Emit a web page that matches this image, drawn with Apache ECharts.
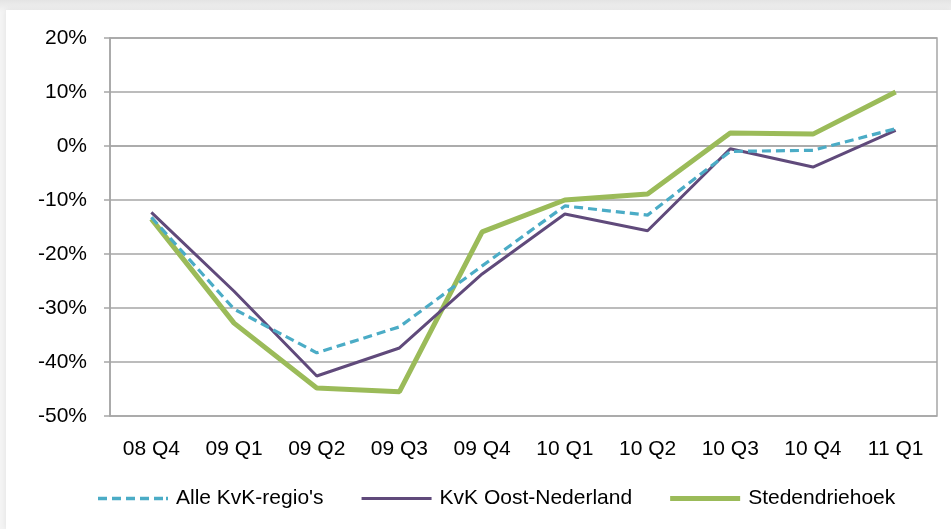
<!DOCTYPE html>
<html>
<head>
<meta charset="utf-8">
<script src="https://cdn.jsdelivr.net/npm/echarts@6/dist/echarts.min.js"></script>
<style>
  html, body { margin: 0; padding: 0; width: 951px; height: 529px; overflow: hidden;
    background: linear-gradient(#e4e4e4, #f4f4f4 12px, #f4f4f4); }
  #chart { position: absolute; left: 6px; top: 10px; width: 945px; height: 519px; background: #ffffff;
    box-shadow: 0 0 6px rgba(0,0,0,0.08); }
</style>
</head>
<body>
<div id="chart"></div>
<script>
const categories = ['08 Q4', '09 Q1', '09 Q2', '09 Q3', '09 Q4', '10 Q1', '10 Q2', '10 Q3', '10 Q4', '11 Q1'];
const alleKvK = [-13.2, -30.2, -38.3, -33.5, -22.2, -11.1, -12.8, -1.0, -0.8, 3.2];
const oostNederland = [-12.3, -26.9, -42.6, -37.4, -23.7, -12.6, -15.7, -0.5, -3.9, 2.9];
const stedendriehoek = [-13.5, -32.8, -44.8, -45.5, -15.9, -10.0, -8.9, 2.4, 2.2, 10.0];
const seriesNames = ["Alle KvK-regio's", 'KvK Oost-Nederland', 'Stedendriehoek'];

const font = 'Liberation Sans, Arial, sans-serif';
const axisGray = '#a6a6a6';
const colors = ['#4bacc6', '#604a7b', '#9bbb59'];
const legendIcons = [
  'path://M0,0h9v3.5h-9z M14,0h9v3.5h-9z M28,0h9v3.5h-9z M42,0h9v3.5h-9z M56,0h9v3.5h-9z M68,0h2v3.5h-2z',
  'path://M0,0h70v3h-70z',
  'path://M0,0h70v5h-70z'
];

const chart = echarts.init(document.getElementById('chart'), null, { renderer: 'canvas' });
chart.setOption({
  animation: false,
  textStyle: { fontFamily: font },
  grid: { left: 104, right: 14, top: 28, bottom: 113, show: true, borderColor: axisGray, borderWidth: 1.5, backgroundColor: 'transparent' },
  legend: {
    bottom: 15,
    left: 87,
    itemWidth: 70,
    itemHeight: 14,
    itemGap: 38,
    itemStyle: { borderWidth: 0 },
    textStyle: { fontFamily: font, fontSize: 21, color: '#000', padding: [0, 0, 0, 3] },
    data: seriesNames.map((n, i) => ({ name: n, icon: legendIcons[i], itemStyle: { color: colors[i], borderWidth: 0 } }))
  },
  xAxis: {
    type: 'category',
    data: categories,
    boundaryGap: true,
    axisLine: { lineStyle: { color: axisGray, width: 1.5 } },
    axisTick: { alignWithLabel: true, length: 6, lineStyle: { color: axisGray, width: 1.5 } },
    axisLabel: { color: '#000', fontSize: 21, fontFamily: font, margin: 23 },
    splitLine: { show: false }
  },
  yAxis: {
    type: 'value',
    min: -50,
    max: 20,
    interval: 10,
    axisLine: { show: true, lineStyle: { color: axisGray, width: 1.5 } },
    axisTick: { show: true, length: 6, lineStyle: { color: axisGray, width: 1.5 } },
    axisLabel: { color: '#000', fontSize: 21, fontFamily: font, margin: 23, formatter: v => v + '%' },
    splitLine: { show: true, lineStyle: { color: axisGray, width: 1.5 } }
  },
  series: [
    {
      name: seriesNames[0], type: 'line', data: alleKvK, symbol: 'none', z: 3,
      lineStyle: { color: colors[0], width: 3.2, type: [9, 5] },
      itemStyle: { color: colors[0] }
    },
    {
      name: seriesNames[1], type: 'line', data: oostNederland, symbol: 'none', z: 2,
      lineStyle: { color: colors[1], width: 3 },
      itemStyle: { color: colors[1] }
    },
    {
      name: seriesNames[2], type: 'line', data: stedendriehoek, symbol: 'none', z: 1,
      lineStyle: { color: colors[2], width: 5 },
      itemStyle: { color: colors[2] }
    }
  ]
});
</script>
</body>
</html>
